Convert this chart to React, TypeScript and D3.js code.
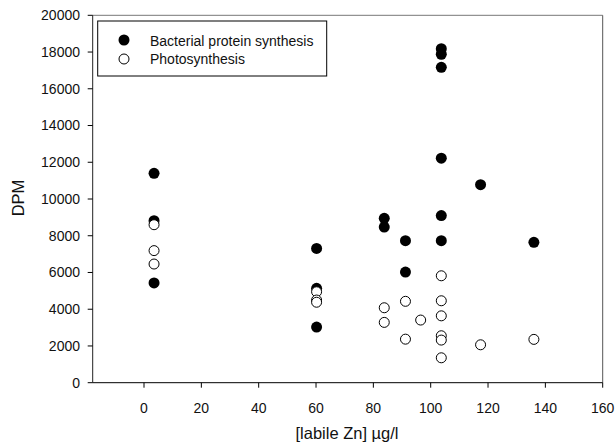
import React from "react";
import * as d3 from "d3";

const bacterialX = [3.5, 3.5, 3.5, 60.2, 60.2, 60.2, 83.8, 83.8, 91.2, 91.2, 103.7, 103.7, 103.7, 103.7, 103.7, 103.7, 117.4, 136];
const bacterialY = [11400, 8820, 5430, 7310, 5140, 3030, 8950, 8470, 7730, 6020, 18180, 17880, 17170, 12220, 9100, 7730, 10780, 7640];
const photoX = [3.5, 3.5, 3.5, 60.2, 60.2, 60.2, 83.8, 83.8, 91.2, 91.2, 96.5, 103.7, 103.7, 103.7, 103.7, 103.7, 103.7, 117.4, 136];
const photoY = [8600, 7190, 6460, 4950, 4500, 4380, 4080, 3283, 4430, 2370, 3410, 5820, 4460, 3640, 2555, 2320, 1356, 2064, 2358];
const xTicks = [0, 20, 40, 60, 80, 100, 120, 140, 160];
const yTicks = [0, 2000, 4000, 6000, 8000, 10000, 12000, 14000, 16000, 18000, 20000];
const seriesNames = ["Bacterial protein synthesis", "Photosynthesis"];

export default function App() {
  const W = 615, H = 443;
  const left = 92.7, right = 602.7, top = 15.3, bottom = 382.7;
  const x = d3.scaleLinear().domain([-17.9, 160]).range([left, right]);
  const y = d3.scaleLinear().domain([0, 20000]).range([bottom, top]);
  const font = "'Liberation Sans', Arial, sans-serif";
  const r = 5.5;
  return (
    <svg width={W} height={H} style={{ position: "absolute", left: 0, top: 0, background: "#fff" }} fontFamily={font}>
      <rect x={0} y={0} width={W} height={H} fill="#fff" />
      {/* frame */}
      <line x1={left} y1={top} x2={right} y2={top} stroke="#777" strokeWidth={1} />
      <line x1={right} y1={top} x2={right} y2={bottom} stroke="#555" strokeWidth={1} />
      <line x1={left} y1={top} x2={left} y2={bottom} stroke="#222" strokeWidth={1} />
      <line x1={left} y1={bottom} x2={right} y2={bottom} stroke="#000" strokeWidth={1} />
      {/* y ticks */}
      {yTicks.map((t) => (
        <g key={"y" + t}>
          <line x1={left - 5} x2={left} y1={y(t)} y2={y(t)} stroke="#000" />
          <text x={80} y={y(t)} dy="0.35em" textAnchor="end" fontSize={14} fill="#111">{t}</text>
        </g>
      ))}
      {/* x ticks */}
      {xTicks.map((t) => (
        <g key={"x" + t}>
          <line x1={x(t)} x2={x(t)} y1={bottom} y2={bottom + 5} stroke="#000" />
          <text x={x(t)} y={407.7} dy="0.35em" textAnchor="middle" fontSize={14} fill="#111">{t}</text>
        </g>
      ))}
      <text x={347} y={433} dy="0.35em" textAnchor="middle" fontSize={16.5} fill="#111">[labile Zn] µg/l</text>
      <text transform={`translate(18,198) rotate(-90)`} dy="0.35em" textAnchor="middle" fontSize={16.5} fill="#111">DPM</text>
      {/* legend */}
      <rect x={97.7} y={21} width={229} height={55} fill="#fff" stroke="#000" strokeWidth={1} />
      <circle cx={124} cy={40} r={r} fill="#000" />
      <circle cx={124} cy={59} r={r - 0.5} fill="#fff" stroke="#000" />
      <text x={150} y={41} dy="0.35em" fontSize={14} fill="#111">{seriesNames[0]}</text>
      <text x={150} y={59} dy="0.35em" fontSize={14} fill="#111">{seriesNames[1]}</text>
      {/* points */}
      {bacterialX.map((v, i) => (
        <circle key={"b" + i} cx={x(v)} cy={y(bacterialY[i])} r={r} fill="#000" />
      ))}
      {photoX.map((v, i) => (
        <circle key={"p" + i} cx={x(v)} cy={y(photoY[i])} r={r - 0.5} fill="#fff" stroke="#000" strokeWidth={1} />
      ))}
    </svg>
  );
}
